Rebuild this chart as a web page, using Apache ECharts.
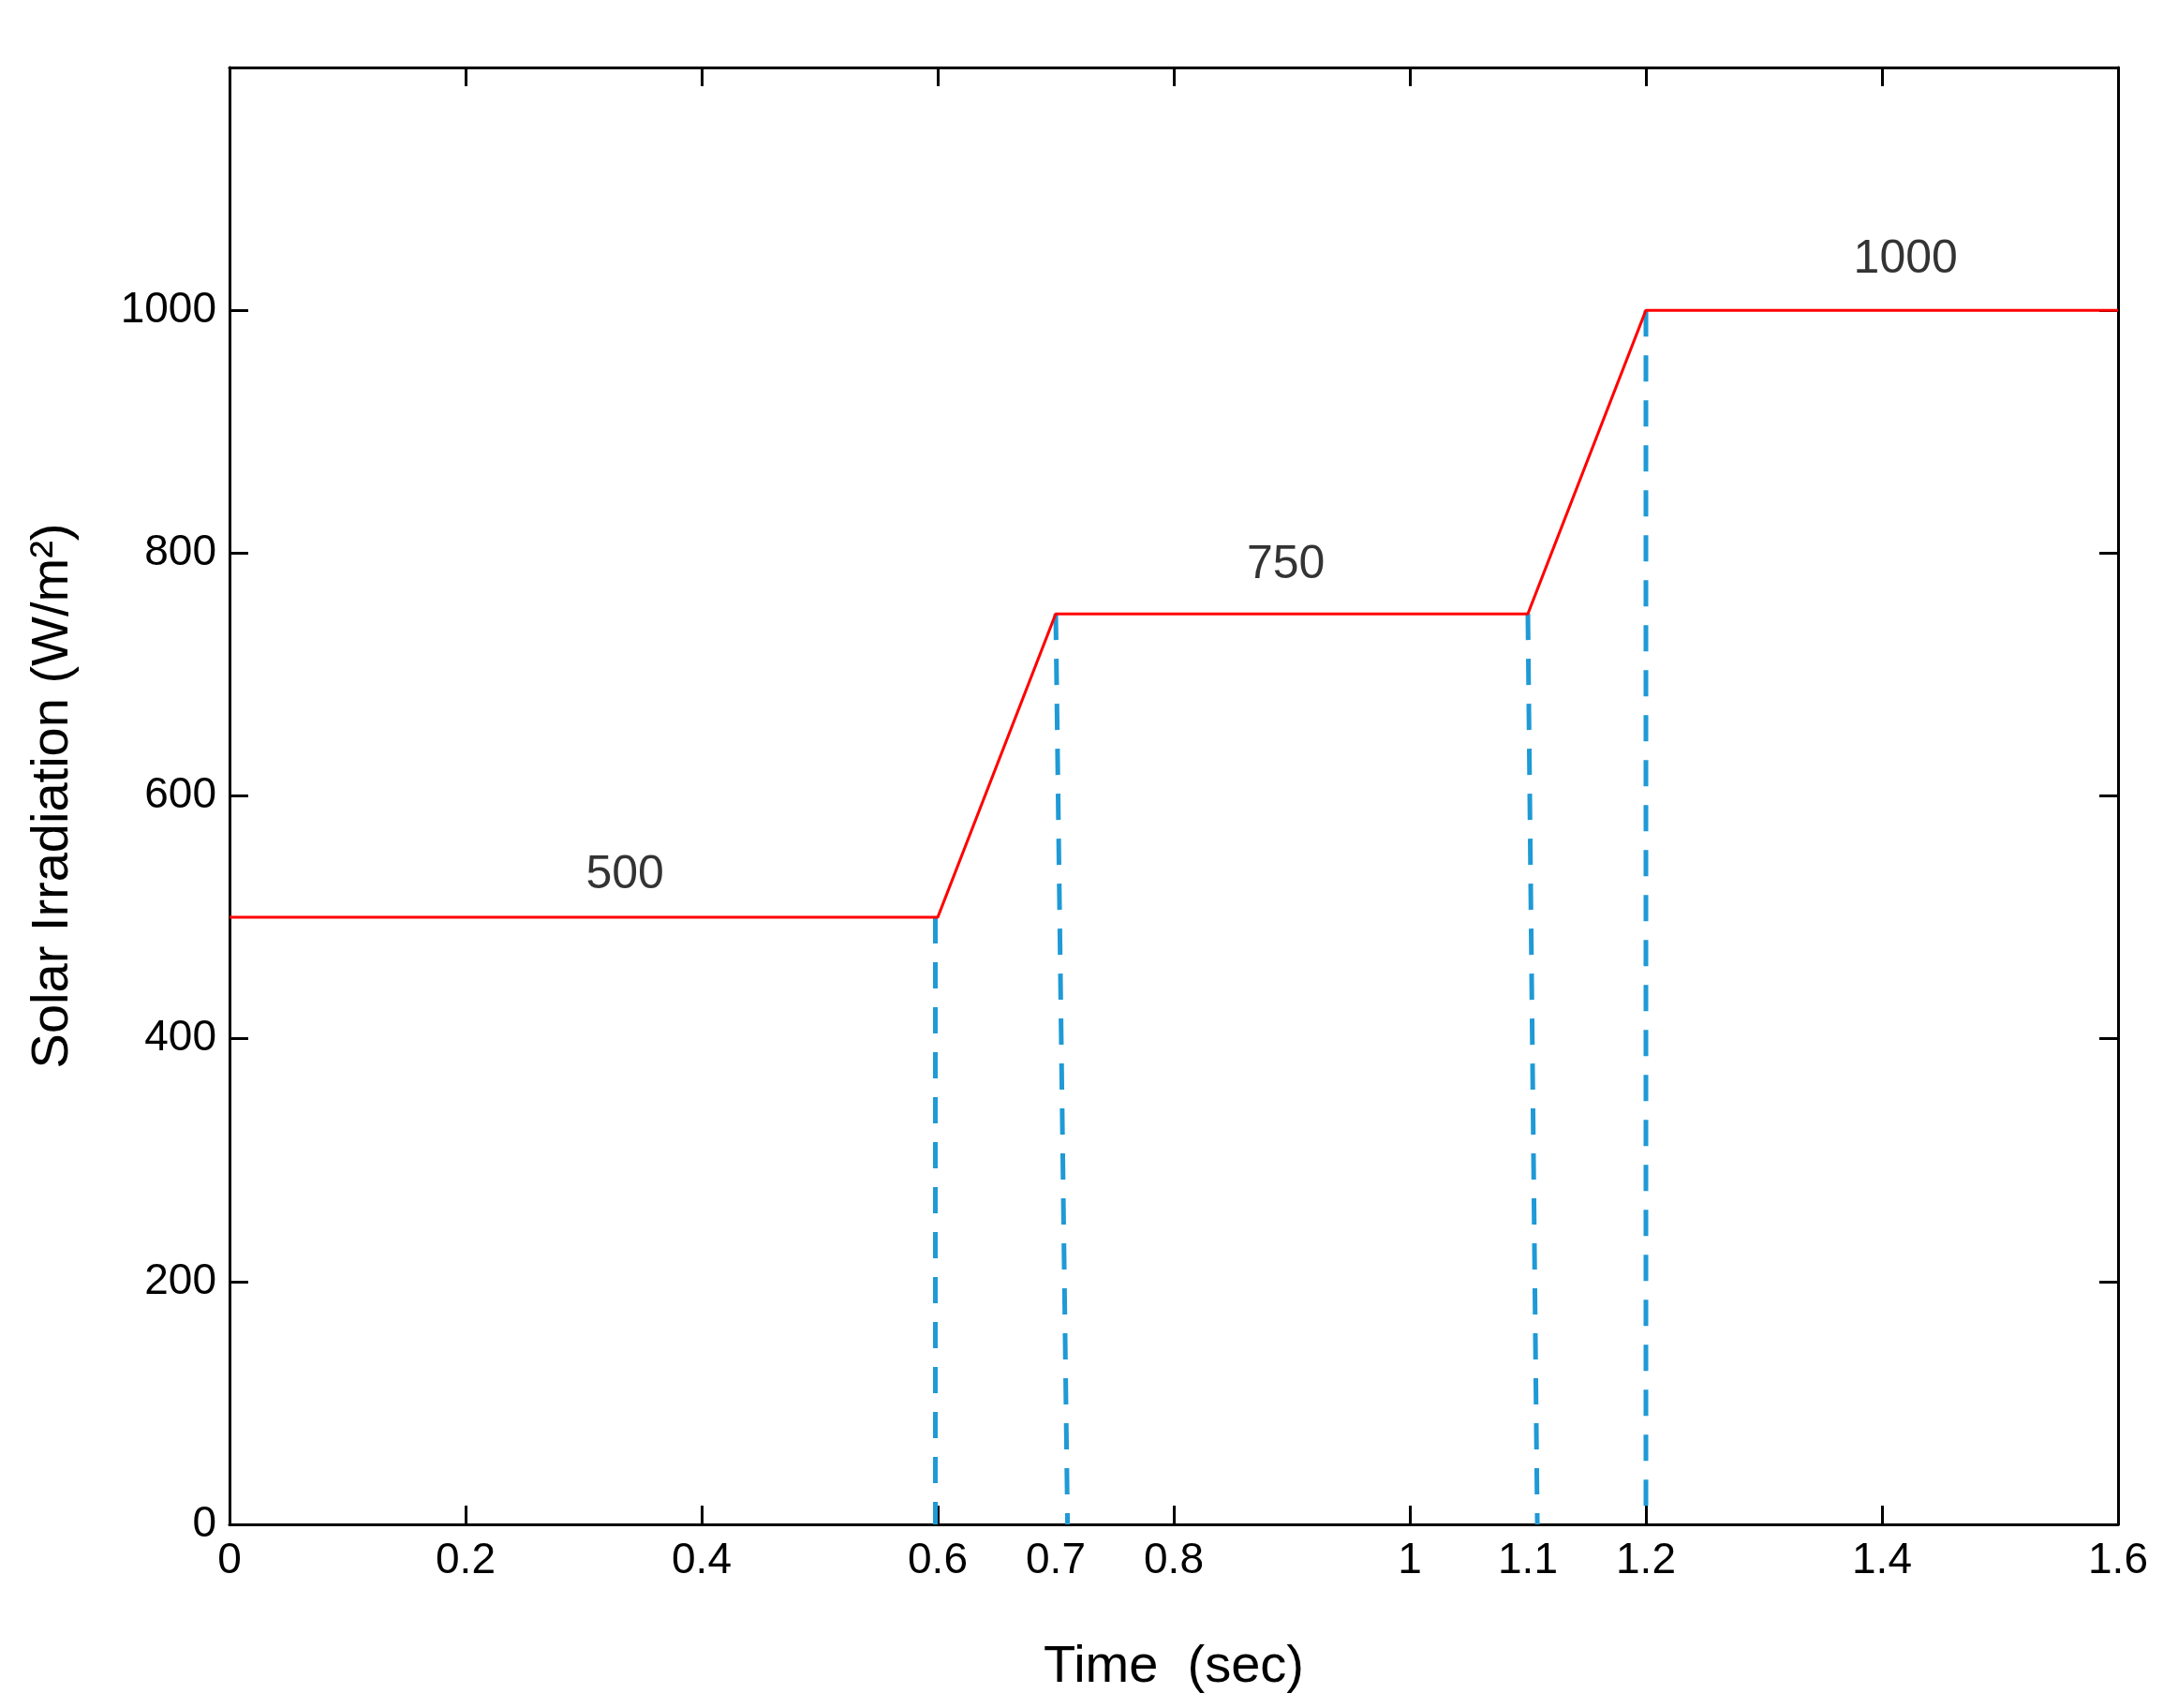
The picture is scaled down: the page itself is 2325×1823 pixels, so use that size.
<!DOCTYPE html>
<html><head><meta charset="utf-8">
<script src="https://cdn.jsdelivr.net/npm/echarts@6/dist/echarts.min.js"></script>
<style>html,body{margin:0;padding:0;background:#fff}#c{width:2325px;height:1823px}</style>
</head><body><div id="c"></div>
<script>
const irradiation = [[0,500],[0.6,500],[0.7,750],[1.1,750],[1.2,1000],[1.6,1000]];
const dashLines = [
  [[0.598,500],[0.598,0]],
  [[0.7,750],[0.71,0]],
  [[1.1,750],[1.108,0]],
  [[1.2,1000],[1.2,0]]
];
const levelLabels = [[0.335,535,'500'],[0.895,790,'750'],[1.42,1042,'1000']];
const xTickLabels = [0,0.2,0.4,0.6,0.7,0.8,1,1.1,1.2,1.4,1.6];
const xTicks = [0,0.2,0.4,0.6,0.8,1,1.2,1.4,1.6];
const yTicks = [0,200,400,600,800,1000];
const font = 'Liberation Sans, Arial, sans-serif';
const chart = echarts.init(document.getElementById('c'));
const series = [{
  type:'line', data:irradiation, symbol:'none', z:3,
  lineStyle:{color:'#ff0000', width:3}
}];
dashLines.forEach(d=>series.push({type:'line', data:d, symbol:'none', z:2,
  lineStyle:{color:'#1f9ad6', width:5, type:[28,20]}}));
series.push({type:'scatter', symbolSize:0, data:levelLabels.map(l=>[l[0],l[1],l[2]]),
  label:{show:true, position:'inside', formatter:p=>p.data[2], color:'#000', fontSize:50, fontFamily:font}});
const tick = {show:true, inside:true, length:20, lineStyle:{color:'#000', width:3}};
const axLine = {show:true, onZero:false, lineStyle:{color:'#000', width:3}};
chart.setOption({
  animation:false,
  grid:{left:245, right:64, top:72, bottom:196},
  xAxis:[{type:'value', min:0, max:1.6, position:'bottom', axisLine:axLine, splitLine:{show:false},
    name:'Time  (sec)', nameLocation:'middle', nameGap:125, nameTextStyle:{fontSize:56, fontFamily:font, color:'#000'},
    axisTick:{...tick, customValues:xTicks},
    axisLabel:{fontSize:46, fontFamily:font, color:'#000', margin:16, customValues:xTickLabels}},
   {type:'value', min:0, max:1.6, position:'top', axisLine:axLine, splitLine:{show:false},
    axisTick:{...tick, customValues:xTicks}, axisLabel:{show:false}}],
  yAxis:[{type:'value', min:0, max:1200, position:'left', axisLine:axLine, splitLine:{show:false},
    name:'Solar Irradiation (W/m²)', nameLocation:'middle', nameGap:160, nameTextStyle:{fontSize:56, fontFamily:font, color:'#000'},
    axisTick:{...tick, customValues:yTicks},
    axisLabel:{fontSize:46, fontFamily:font, color:'#000', margin:14, customValues:yTicks, formatter:v=>String(v)}},
   {type:'value', min:0, max:1200, position:'right', axisLine:axLine, splitLine:{show:false},
    axisTick:{...tick, customValues:yTicks}, axisLabel:{show:false}}],
  series
});
</script></body></html>
